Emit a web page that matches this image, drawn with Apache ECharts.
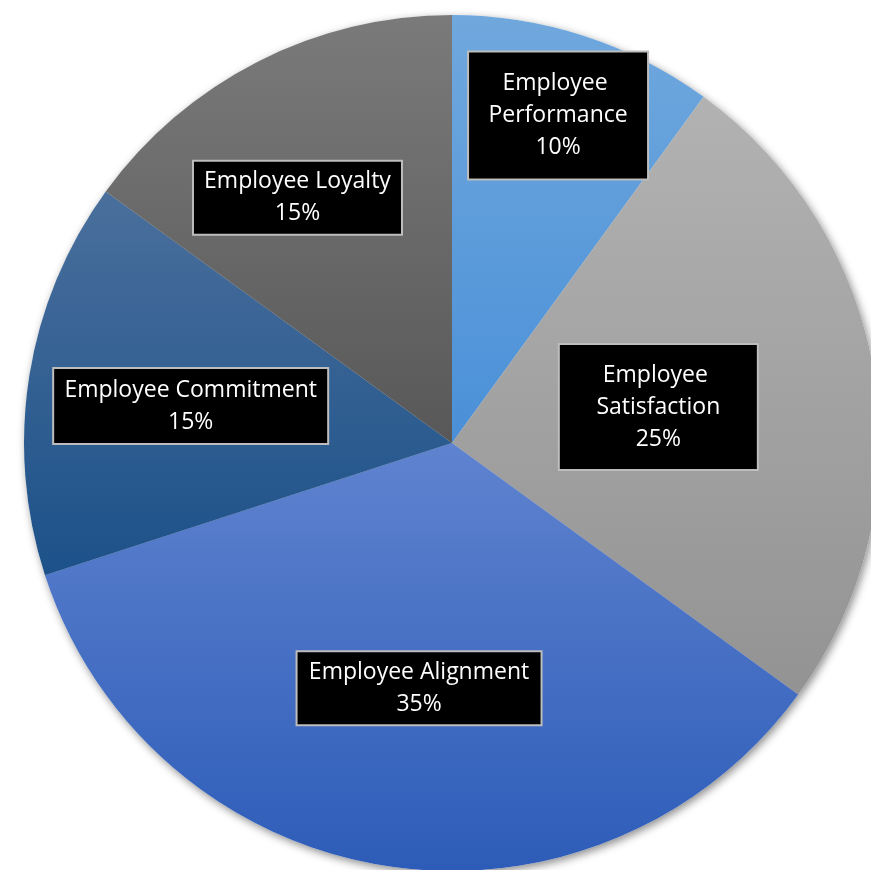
<!DOCTYPE html>
<html>
<head>
<meta charset="utf-8">
<script src="https://cdn.jsdelivr.net/npm/echarts@6/dist/echarts.min.js"></script>
<style>
  html, body { margin: 0; padding: 0; background: #fff; }
  #chart { width: 871px; height: 870px; }
</style>
</head>
<body>
<div id="chart"></div>
<script>
const categories = ['Employee Performance', 'Employee Satisfaction', 'Employee Alignment', 'Employee Commitment', 'Employee Loyalty'];
const values = [10, 25, 35, 15, 15];

// slice gradients, top -> bottom
const topColors = ['#70a8dd', '#b2b2b2', '#5f83cf', '#4a6f9c', '#7a7a7a'];
const bottomColors = ['#4a90d8', '#939393', '#2d5cb8', '#1c5189', '#585858'];

// label boxes: offset from the default "inside" spot, text width, padding
const labelOffsets = [[39, -121], [-8, -2], [1, 31], [-47, -3], [-56, -52]];
const labelWidths = [144, 163, 209, 261, 173];
const labelPads = [[15, 17], [14, 17], [4, 17], [5, 6], [4, 17]];

const center = ['452px', '443px'];
const radius = '428px';

const chart = echarts.init(document.getElementById('chart'));

chart.setOption({
  animation: false,
  series: [
    {
      // shadow under the pie
      type: 'pie',
      silent: true,
      center: center,
      radius: radius,
      startAngle: 90,
      z: 1,
      label: { show: false },
      labelLine: { show: false },
      itemStyle: {
        color: '#ffffff',
        shadowBlur: 8,
        shadowColor: 'rgba(0,0,0,0.45)',
        shadowOffsetX: 2,
        shadowOffsetY: 3
      },
      data: values.map((v, i) => ({ name: categories[i], value: v }))
    },
    {
      type: 'pie',
      center: center,
      radius: radius,
      startAngle: 90,
      clockwise: true,
      z: 2,
      labelLine: { show: false },
      label: {
        show: true,
        position: 'inside',
        formatter: '{b}\n{d}%',
        color: '#ffffff',
        fontFamily: 'Open Sans',
        fontSize: 23,
        lineHeight: 32,
        align: 'center',
        backgroundColor: '#000000',
        borderColor: '#bdbdbd',
        borderWidth: 2
      },
      data: values.map((v, i) => ({
        name: categories[i],
        value: v,
        itemStyle: {
          color: new echarts.graphic.LinearGradient(0, 0, 0, 1, [
            { offset: 0, color: topColors[i] },
            { offset: 1, color: bottomColors[i] }
          ])
        },
        label: {
          offset: labelOffsets[i],
          width: labelWidths[i],
          overflow: i < 2 ? 'break' : 'none',
          padding: labelPads[i]
        }
      }))
    }
  ]
});
</script>
</body>
</html>
